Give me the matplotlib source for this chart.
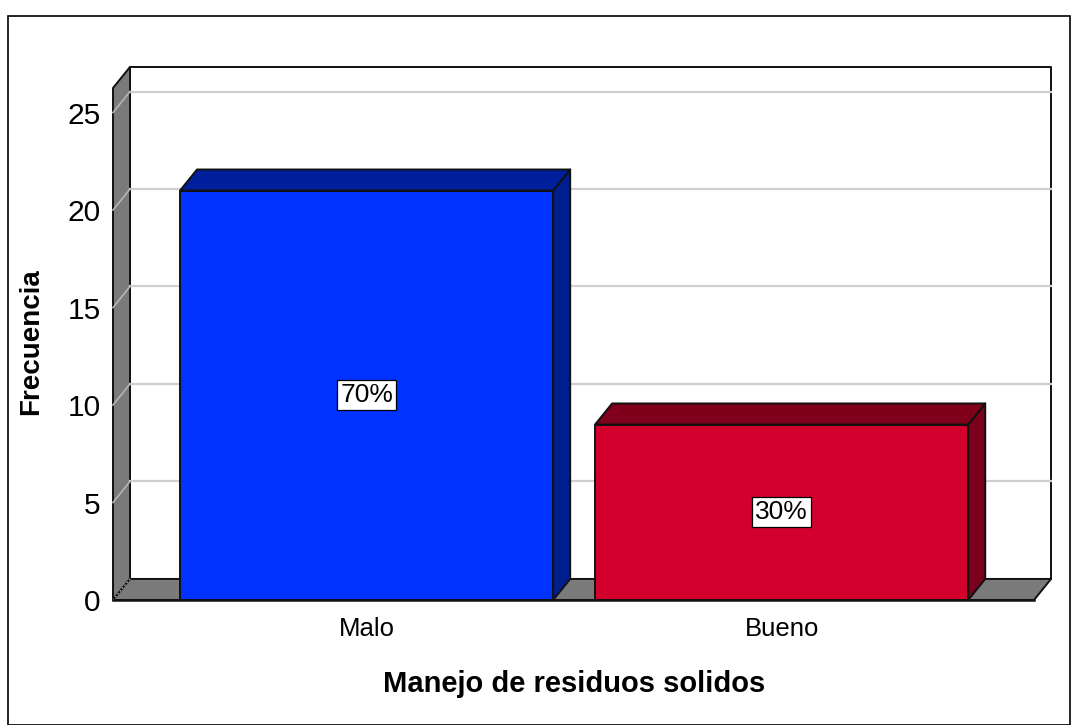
"""Bar chart of frecuencia by manejo de residuos solidos, SPSS-style 3D look."""

import matplotlib

matplotlib.use("Agg")
import matplotlib.pyplot as plt
from matplotlib.patches import Polygon, Rectangle

plt.rcParams["font.family"] = ["Liberation Sans", "DejaVu Sans"]

categories = ["Malo", "Bueno"]
frequencies = [21, 9]
percent_labels = ["70%", "30%"]
y_ticks = [0, 5, 10, 15, 20, 25]
x_label = "Manejo de residuos solidos"
y_label = "Frecuencia"

W, H = 1076, 725
LEFT, RIGHT, BOTTOM, TOP = 113, 1034, 600, 88   # front plane in pixels
Y_MAX = 26.26
X_MIN, X_MAX = -0.611, 1.608
DX = 0.041      # depth offset in category units
DY = 1.08       # depth offset in frequency units
BAR_WIDTH = 0.899

bar_colors = ["#0033ff", "#d3002d"]
top_colors = ["#001f9c", "#80001c"]
side_colors = ["#001f8f", "#7a001b"]
WALL = "#7a7a7a"
EDGE = "#111111"


def poly(ax, pts, color, lw=1.4, zorder=2):
    ax.add_patch(Polygon(pts, closed=True, facecolor=color, edgecolor=EDGE,
                         linewidth=lw, joinstyle="round", clip_on=False, zorder=zorder))


fig = plt.figure(figsize=(W / 100, H / 100), dpi=100)
fig.add_artist(Rectangle((8 / W, 1 - 725 / H), (1070 - 8) / W, (725 - 16) / H,
                         transform=fig.transFigure, fill=False, edgecolor="black", linewidth=1.2))

ax = fig.add_axes([LEFT / W, 1 - BOTTOM / H, (RIGHT - LEFT) / W, (BOTTOM - TOP) / H])
ax.set_xlim(X_MIN, X_MAX)
ax.set_ylim(0, Y_MAX)
ax.patch.set_alpha(0)
for spine in ax.spines.values():
    spine.set_visible(False)

# back wall, side wall, floor
poly(ax, [(X_MIN + DX, DY), (X_MAX + DX, DY), (X_MAX + DX, Y_MAX + DY), (X_MIN + DX, Y_MAX + DY)], "white", zorder=1)
poly(ax, [(X_MIN, 0), (X_MIN + DX, DY), (X_MIN + DX, Y_MAX + DY), (X_MIN, Y_MAX)], WALL)
poly(ax, [(X_MIN, 0), (X_MAX, 0), (X_MAX + DX, DY), (X_MIN + DX, DY)], WALL)

# gridlines wrap from the side wall on to the back wall
for t in y_ticks[1:]:
    ax.plot([X_MIN + DX, X_MAX + DX], [t + DY, t + DY], color="#cfcfcf", lw=1.6, zorder=3, clip_on=False)
    ax.plot([X_MIN, X_MIN + DX], [t, t + DY], color="#b5b5b5", lw=1.2, zorder=3, clip_on=False)
ax.plot([X_MIN, X_MIN + DX], [0, DY], color="#b5b5b5", lw=1.0, ls=":", zorder=3, clip_on=False)

for i, value in enumerate(frequencies):
    x0, x1 = i - BAR_WIDTH / 2, i + BAR_WIDTH / 2
    poly(ax, [(x1, 0), (x1 + DX, DY), (x1 + DX, value + DY), (x1, value)], side_colors[i], zorder=4)
    poly(ax, [(x0, value), (x1, value), (x1 + DX, value + DY), (x0 + DX, value + DY)], top_colors[i], zorder=4)
    poly(ax, [(x0, 0), (x1, 0), (x1, value), (x0, value)], bar_colors[i], zorder=5)
    ax.text(i, value / 2, percent_labels[i], ha="center", va="center", fontsize=23 * 72 / 100 * 1.15,
            zorder=6, bbox=dict(boxstyle="square,pad=0.12", facecolor="white", edgecolor="black", linewidth=0.9))

ax.plot([X_MIN, X_MAX], [0, 0], color=EDGE, lw=1.8, zorder=7, clip_on=False)

ax.set_xticks(range(len(categories)), categories)
ax.set_yticks(y_ticks)
ax.tick_params(axis="both", length=0)
ax.tick_params(axis="x", labelsize=18.5, pad=12)
ax.tick_params(axis="y", labelsize=21.5, pad=9)
for label in ax.get_yticklabels():
    label.set_y(-0.1)

fig.text(574 / W, 1 - 684 / H, x_label, ha="center", va="center", fontsize=21, fontweight="bold")
fig.text(31 / W, 1 - 342 / H, y_label, ha="center", va="center", rotation=90, fontsize=20, fontweight="bold")

fig.savefig("out.png", dpi=100, facecolor="white")
